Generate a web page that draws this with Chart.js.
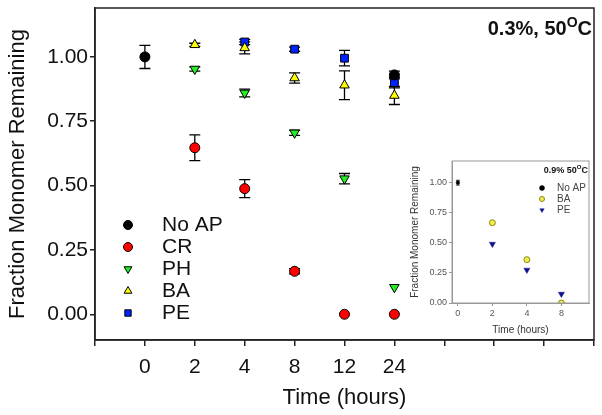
<!DOCTYPE html>
<html>
<head>
<meta charset="utf-8">
<script src="https://cdn.jsdelivr.net/npm/chart.js@4.4.1/dist/chart.umd.min.js"></script>
<style>
  body { margin: 0; background: #fff; }
  #wrap { position: relative; width: 602px; height: 415px; }
  #main { position: absolute; left: 0; top: 0; }
  #inset { position: absolute; left: 408px; top: 155px; }
</style>
</head>
<body>
<div id="wrap">
  <canvas id="main" width="602" height="415"></canvas>
  <canvas id="inset" width="186" height="182"></canvas>
</div>
<script>
// Monomer remaining over time, 0.3% at 50 C, with a 0.9% inset

const times = ['0', '2', '4', '8', '12', '24'];

const noAP    = [1.00, null, null, null, null, 0.93];
const noAPErr = [0.045, 0, 0, 0, 0, 0.015];
const cr      = [null, 0.647, 0.488, 0.167, 0.0, 0.0];
const crErr   = [0, 0.05, 0.035, 0.01, 0, 0];
const ph      = [null, 0.953, 0.86, 0.705, 0.527, 0.105];
const phErr   = [0, 0.008, 0.015, 0.01, 0.02, 0];
const ba      = [null, 1.047, 1.035, 0.918, 0.89, 0.85];
const baErr   = [0, 0.006, 0.023, 0.02, 0.056, 0.035];
const pe      = [null, null, 1.058, 1.03, 0.995, 0.90];
const peErr   = [0, 0, 0.01, 0.008, 0.03, 0.02];

// inset: 0.9%, 50 C
const insetTimes  = ['0', '2', '4', '8'];
const inNoAP      = [1.00, null, null, null];
const inNoAPErr   = [0.02, 0, 0, 0];
const inBA        = [null, 0.667, 0.36, 0.0];
const inPE        = [null, 0.49, 0.275, 0.075];

Chart.defaults.font.family = "'Liberation Sans', Arial, sans-serif";

// turn value + error arrays into scatter points at category index
function toPoints(vals, errs) {
    const pts = [];
    vals.forEach((v, i) => {
        if (v !== null) pts.push({ x: i, y: v, err: errs ? errs[i] : 0 });
    });
    return pts;
}

// vertical error bars with caps, drawn under the markers
const errorBars = {
    id: 'errorBars',
    beforeDatasetsDraw(chart, args, opts) {
        const ctx = chart.ctx;
        const xs = chart.scales.x, ys = chart.scales.y;
        ctx.save();
        ctx.strokeStyle = opts.color || '#000';
        ctx.lineWidth = opts.width || 1.3;
        chart.data.datasets.forEach(ds => {
            ds.data.forEach(p => {
                if (!p.err) return;
                const x = xs.getPixelForValue(p.x);
                const y1 = ys.getPixelForValue(p.y + p.err);
                const y2 = ys.getPixelForValue(p.y - p.err);
                const c = opts.cap || 5;
                ctx.beginPath();
                ctx.moveTo(x, y1); ctx.lineTo(x, y2);
                ctx.moveTo(x - c, y1); ctx.lineTo(x + c, y1);
                ctx.moveTo(x - c, y2); ctx.lineTo(x + c, y2);
                ctx.stroke();
            });
        });
        ctx.restore();
    }
};

// closed box round the plot area
const frame = {
    id: 'frame',
    afterDraw(chart, args, opts) {
        const a = chart.chartArea, ctx = chart.ctx;
        ctx.save();
        ctx.strokeStyle = opts.color;
        ctx.lineWidth = opts.width;
        ctx.strokeRect(a.left, a.top, a.right - a.left, a.bottom - a.top);
        ctx.restore();
    }
};

// legend inside the plot, built from the datasets
const boxLegend = {
    id: 'boxLegend',
    afterDraw(chart, args, opts) {
        const ctx = chart.ctx;
        ctx.save();
        ctx.font = opts.font;
        ctx.textBaseline = 'middle';
        chart.data.datasets.forEach((ds, i) => {
            const y = opts.y + i * opts.dy;
            ctx.fillStyle = ds.backgroundColor;
            ctx.strokeStyle = ds.borderColor;
            ctx.lineWidth = ds.borderWidth;
            Chart.helpers.drawPoint(ctx, {
                pointStyle: ds.pointStyle,
                rotation: ds.rotation || 0,
                radius: opts.radius,
                borderWidth: ds.borderWidth
            }, opts.x, y);
            ctx.fillStyle = opts.color;
            ctx.fillText(ds.label, opts.textX, y);
        });
        ctx.restore();
    }
};

// "0.3%, 50 oC" heading with raised O
const cornerTitle = {
    id: 'cornerTitle',
    afterDraw(chart, args, opts) {
        const ctx = chart.ctx;
        const s = opts.size;
        const big = 'bold ' + s + 'px "Liberation Sans", Arial, sans-serif';
        const small = 'bold ' + Math.round(s * 0.7) + 'px "Liberation Sans", Arial, sans-serif';
        ctx.save();
        ctx.fillStyle = '#111';
        ctx.textBaseline = 'alphabetic';
        ctx.font = big;
        const wMain = ctx.measureText(opts.text).width;
        const wC = ctx.measureText('C').width;
        ctx.font = small;
        const wO = ctx.measureText('O').width;
        let x = opts.right - wMain - wO - wC;
        ctx.font = big;
        ctx.fillText(opts.text, x, opts.y);
        x += wMain;
        ctx.font = small;
        ctx.fillText('O', x, opts.y - s * 0.42);
        x += wO;
        ctx.font = big;
        ctx.fillText('C', x, opts.y);
        ctx.restore();
    }
};

function fixedTicks(values) {
    return scale => { scale.ticks = values.map(v => ({ value: v })); };
}

// no extra room for half-labels at the ends
function noPad(size, dim) {
    return s => {
        s[dim] = size;
        s.paddingTop = 0; s.paddingBottom = 0;
        s.paddingLeft = 0; s.paddingRight = 0;
    };
}

const yTickVals = [0, 0.25, 0.5, 0.75, 1.0];

// main chart
new Chart(document.getElementById('main'), {
    type: 'scatter',
    data: {
        datasets: [
            { label: 'No AP', data: toPoints(noAP, noAPErr), pointStyle: 'circle', pointRadius: 5,
              backgroundColor: '#000000', borderColor: '#000000', borderWidth: 1 },
            { label: 'CR', data: toPoints(cr, crErr), pointStyle: 'circle', pointRadius: 5,
              backgroundColor: '#ff0000', borderColor: '#000000', borderWidth: 1 },
            { label: 'PH', data: toPoints(ph, phErr), pointStyle: 'triangle', rotation: 180,
              pointRotation: 180, pointRadius: 5.5, backgroundColor: '#22ee22', borderColor: '#000000', borderWidth: 1 },
            { label: 'BA', data: toPoints(ba, baErr), pointStyle: 'triangle', pointRadius: 5.5,
              backgroundColor: '#ffff00', borderColor: '#000000', borderWidth: 1 },
            { label: 'PE', data: toPoints(pe, peErr), pointStyle: 'rect', pointRadius: 5.5,
              backgroundColor: '#0022ff', borderColor: '#000000', borderWidth: 1 }
        ]
    },
    options: {
        responsive: false,
        animation: false,
        layout: { padding: { top: 8, right: 8, left: 0, bottom: 0 } },
        plugins: {
            legend: { display: false },
            tooltip: { enabled: false },
            errorBars: { cap: 5.5, width: 1.3, color: '#000' },
            frame: { color: '#222', width: 1.5 },
            boxLegend: { x: 128, y: 225, dy: 22, radius: 4.5, textX: 162,
                         font: '21px "Liberation Sans", Arial, sans-serif', color: '#111' },
            cornerTitle: { text: '0.3%, 50', right: 592, y: 35, size: 20 }
        },
        scales: {
            x: {
                type: 'linear', min: -1, max: 9,
                afterBuildTicks: fixedTicks([-1, 0, 1, 2, 3, 4, 5, 6, 7, 8, 9]),
                afterFit: noPad(75, 'height'),
                ticks: { callback: v => times[v] ?? '', font: { size: 21 }, color: '#111',
                         padding: 9, maxRotation: 0, autoSkip: false },
                grid: { drawOnChartArea: false, tickLength: 6, color: '#222', lineWidth: 1.5 },
                border: { color: '#222', width: 1.5 },
                title: { display: true, text: 'Time (hours)', font: { size: 22 }, color: '#111',
                         padding: { top: 0, bottom: 4 } }
            },
            y: {
                min: -0.1, max: 1.19,
                afterBuildTicks: fixedTicks(yTickVals),
                afterFit: noPad(95, 'width'),
                ticks: { callback: v => v.toFixed(2), font: { size: 21 }, color: '#111', padding: 2 },
                grid: { drawOnChartArea: false, tickLength: 5, color: '#222', lineWidth: 1.5 },
                border: { color: '#222', width: 1.5 },
                title: { display: true, text: 'Fraction Monomer Remaining', font: { size: 22 }, color: '#111',
                         padding: { top: 5, bottom: 0 } }
            }
        }
    },
    plugins: [errorBars, frame, boxLegend, cornerTitle]
});

// inset chart
new Chart(document.getElementById('inset'), {
    type: 'scatter',
    data: {
        datasets: [
            { label: 'No AP', data: toPoints(inNoAP, inNoAPErr), pointStyle: 'circle', pointRadius: 1.8,
              backgroundColor: '#000000', borderColor: '#000000', borderWidth: 0.5 },
            { label: 'BA', data: toPoints(inBA), pointStyle: 'circle', pointRadius: 3,
              backgroundColor: '#f0ec50', borderColor: '#8a8a10', borderWidth: 1 },
            { label: 'PE', data: toPoints(inPE), pointStyle: 'triangle', rotation: 180,
              pointRotation: 180, pointRadius: 3.5, backgroundColor: '#10108a', borderColor: '#10108a', borderWidth: 0.5 }
        ]
    },
    options: {
        responsive: false,
        animation: false,
        layout: { padding: { top: 6, right: 4, left: 0, bottom: 0 } },
        plugins: {
            legend: { display: false },
            tooltip: { enabled: false },
            errorBars: { cap: 2, width: 0.8, color: '#000' },
            frame: { color: '#999', width: 1 },
            boxLegend: { x: 134, y: 33, dy: 11, radius: 2.5, textX: 149,
                         font: '10px "Liberation Sans", Arial, sans-serif', color: '#444' },
            cornerTitle: { text: '0.9% 50', right: 180, y: 18, size: 9 }
        },
        scales: {
            x: {
                type: 'linear', min: -0.17, max: 3.8,
                afterBuildTicks: fixedTicks([0, 1, 2, 3]),
                afterFit: noPad(34, 'height'),
                ticks: { callback: v => insetTimes[v] ?? '', font: { size: 9 }, color: '#555',
                         padding: 2, maxRotation: 0, autoSkip: false },
                grid: { drawOnChartArea: false, tickLength: 3, color: '#999' },
                border: { color: '#999', width: 1 },
                title: { display: true, text: 'Time (hours)', font: { size: 10 }, color: '#333',
                         padding: { top: 0, bottom: 1 } }
            },
            y: {
                min: 0, max: 1.18,
                afterBuildTicks: fixedTicks(yTickVals),
                afterFit: noPad(44, 'width'),
                ticks: { callback: v => v.toFixed(2), font: { size: 9 }, color: '#555', padding: 2 },
                grid: { drawOnChartArea: false, tickLength: 3, color: '#999' },
                border: { color: '#999', width: 1 },
                title: { display: true, text: 'Fraction Monomer Remaining', font: { size: 10 }, color: '#333',
                         padding: { top: 1, bottom: 0 } }
            }
        }
    },
    plugins: [errorBars, frame, boxLegend, cornerTitle]
});
</script>
</body>
</html>
